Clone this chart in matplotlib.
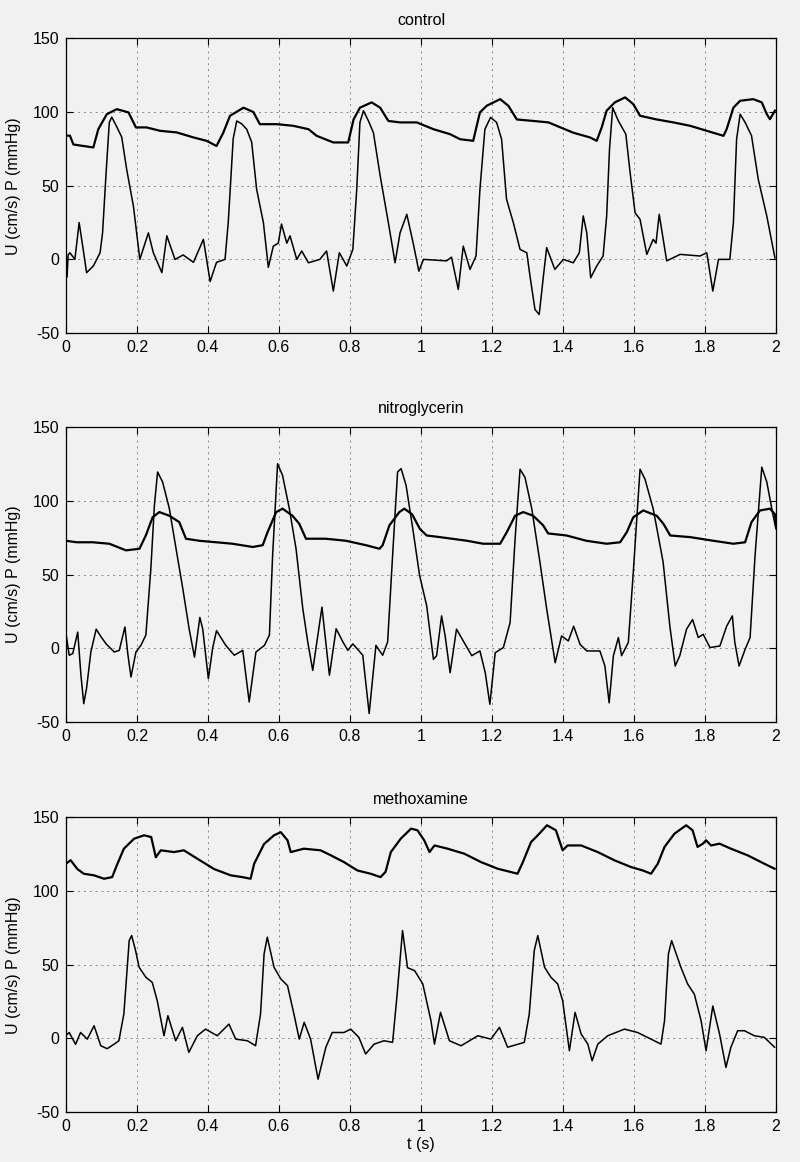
import numpy as np
import matplotlib
matplotlib.use("Agg")
import matplotlib.pyplot as plt

plt.rcParams['font.family'] = ['Liberation Sans', 'DejaVu Sans']
plt.rcParams['axes.unicode_minus'] = False

titles = ["control", "nitroglycerin", "methoxamine"]
yticks = [-50, 0, 50, 100, 150]
xticks = [0, 0.2, 0.4, 0.6, 0.8, 1, 1.2, 1.4, 1.6, 1.8, 2]

# (t, value)
ctrl_p = [(0, 84), (0.011, 84), (0.021, 78), (0.077, 76), (0.091, 88.4), (0.115, 98.6), (0.143, 102),
          (0.176, 99.8), (0.197, 89.6), (0.227, 89.6), (0.265, 87.3), (0.312, 86.2), (0.359, 82.8),
          (0.396, 80.5), (0.424, 77), (0.443, 86), (0.462, 97.5), (0.5, 103), (0.528, 100), (0.546, 91.8),
          (0.594, 91.8), (0.64, 90.7), (0.683, 88.4), (0.706, 83.9), (0.753, 79.4), (0.795, 79.4), (0.81, 95),
          (0.828, 103), (0.861, 106.6), (0.885, 103), (0.908, 94), (0.941, 93), (0.988, 93), (1.035, 88.4),
          (1.082, 85), (1.11, 81.6), (1.147, 80.5), (1.166, 99.8), (1.185, 104.3), (1.223, 108.8),
          (1.246, 104.3), (1.27, 95), (1.316, 94), (1.359, 93), (1.382, 90.7), (1.429, 86), (1.476, 82.8),
          (1.495, 80.5), (1.509, 89.6), (1.523, 101), (1.546, 106.6), (1.575, 110), (1.598, 105.4),
          (1.617, 97.5), (1.664, 95), (1.711, 93), (1.758, 90.7), (1.805, 87.3), (1.852, 83.9),
          (1.861, 88.4), (1.88, 103), (1.899, 107.7), (1.936, 108.8), (1.96, 106.6), (1.974, 98.6),
          (1.983, 95.2), (1.997, 101)]
ctrl_u = [(0, -12), (0.003, -12), (0.006, 3), (0.011, 4.5), (0.025, 0), (0.037, 25), (0.047, 9), (0.058, -9),
          (0.077, -4.5), (0.096, 4.5), (0.103, 18), (0.113, 59), (0.122, 93), (0.129, 96.6), (0.143, 90),
          (0.157, 83), (0.171, 61), (0.19, 36), (0.208, 0), (0.232, 18), (0.246, 4.5), (0.27, -9), (0.284, 16),
          (0.307, 0), (0.33, 3), (0.359, -2), (0.387, 13.6), (0.406, -15), (0.424, -2), (0.448, 0), (0.457, 25),
          (0.471, 82), (0.481, 94), (0.495, 92), (0.509, 88.4), (0.523, 79.6), (0.537, 47.6), (0.556, 25),
          (0.57, -5.4), (0.584, 9), (0.598, 11), (0.607, 24), (0.622, 11), (0.631, 16), (0.65, 0),
          (0.664, 5.7), (0.683, -2.3), (0.715, 0), (0.734, 5.7), (0.753, -21.5), (0.77, 4.5), (0.791, -4.5),
          (0.808, 6.8), (0.819, 47.6), (0.828, 93), (0.838, 100.9), (0.852, 94), (0.866, 86), (0.885, 56.7),
          (0.908, 25), (0.927, -2.3), (0.941, 18), (0.96, 30.6), (0.978, 11), (0.994, -8), (1.007, 0),
          (1.072, -1), (1.086, 1.5), (1.105, -20.4), (1.119, 9), (1.138, -6.8), (1.155, 2.3), (1.166, 47.6),
          (1.18, 88.4), (1.196, 96.4), (1.213, 93), (1.227, 81.6), (1.241, 40.8), (1.26, 25), (1.279, 6.8),
          (1.298, 4.5), (1.307, -11.3), (1.321, -34), (1.333, -37.4), (1.345, -11), (1.354, 8),
          (1.377, -6.8), (1.401, 0), (1.429, -2.3), (1.446, 4.5), (1.457, 29.5), (1.467, 18), (1.478, -12.5),
          (1.495, -4.5), (1.513, 2.3), (1.523, 29.5), (1.531, 74.8), (1.54, 103), (1.556, 94), (1.577, 85),
          (1.589, 59), (1.603, 31.7), (1.617, 27.2), (1.636, 3.4), (1.654, 13.6), (1.662, 11), (1.671, 30.6),
          (1.692, -1), (1.73, 3.4), (1.786, 2.3), (1.805, 4.5), (1.822, -21.5), (1.838, 0), (1.87, 0),
          (1.88, 25), (1.889, 81.6), (1.899, 98.6), (1.913, 93), (1.931, 84), (1.95, 54.4), (1.974, 29.5),
          (1.997, 1)]

nitro_p = [(0, 73), (0.03, 72), (0.075, 72), (0.122, 71), (0.169, 66.5), (0.207, 67.6), (0.225, 76.7),
           (0.244, 89), (0.263, 92.5), (0.291, 90), (0.319, 85.7), (0.338, 74.4), (0.376, 73), (0.423, 72),
           (0.469, 71), (0.526, 68.8), (0.554, 70), (0.568, 79), (0.592, 92.5), (0.61, 94.8), (0.638, 90),
           (0.657, 84.6), (0.676, 74.4), (0.732, 74.4), (0.789, 73), (0.845, 70), (0.883, 67.6), (0.892, 70),
           (0.911, 83.5), (0.939, 92.5), (0.953, 94.8), (0.975, 91), (0.997, 81), (1.016, 76.6),
           (1.053, 75.5), (1.13, 73), (1.175, 71), (1.223, 71), (1.242, 79), (1.265, 90), (1.288, 92.5),
           (1.316, 90), (1.344, 83.5), (1.358, 78), (1.41, 76.6), (1.466, 73), (1.523, 71), (1.561, 72),
           (1.58, 79), (1.598, 89), (1.626, 93.6), (1.664, 90), (1.683, 84.5), (1.702, 76.6), (1.758, 75.5),
           (1.824, 73), (1.88, 71), (1.913, 72), (1.931, 85.7), (1.955, 93.6), (1.983, 94.8), (1.997, 91),
           (2.0, 83)]
nitro_u = [(0, 10), (0.009, -4.7), (0.019, -3.6), (0.033, 11), (0.042, -18), (0.05, -37.6), (0.058, -27),
           (0.07, -2.5), (0.085, 13), (0.099, 7.7), (0.113, 3), (0.136, -2.5), (0.15, -1.4), (0.166, 14.5),
           (0.174, -3.6), (0.183, -19.5), (0.197, -2.5), (0.211, 2), (0.225, 9), (0.239, 54), (0.249, 97),
           (0.258, 119.7), (0.272, 113), (0.291, 95), (0.31, 67.6), (0.329, 40.5), (0.347, 13), (0.362, -6),
           (0.377, 21), (0.385, 13.3), (0.401, -20.6), (0.413, 0), (0.424, 12), (0.45, 2), (0.474, -4.7),
           (0.498, -1.4), (0.516, -36.4), (0.535, -2.5), (0.559, 2), (0.573, 9), (0.582, 63), (0.596, 125.3),
           (0.61, 117.4), (0.629, 95), (0.648, 67.6), (0.667, 27), (0.681, 4.3), (0.695, -15), (0.721, 28),
           (0.742, -18.3), (0.761, 13.3), (0.78, 4.3), (0.794, -1.4), (0.808, 3), (0.836, -4.7),
           (0.854, -44.3), (0.873, 2), (0.892, -4.7), (0.906, 4.3), (0.92, 63), (0.934, 119.7), (0.944, 122),
           (0.958, 110.6), (0.977, 81), (0.996, 49.5), (1.016, 28.9), (1.035, -7.5), (1.044, -5), (1.058, 22),
           (1.068, 8.4), (1.082, -16.6), (1.1, 13), (1.119, 5), (1.143, -5), (1.166, -1.8), (1.181, -16.6),
           (1.194, -38), (1.209, -3), (1.232, 0.5), (1.251, 17.5), (1.265, 74), (1.279, 121.6), (1.293, 116),
           (1.312, 94.8), (1.335, 58.6), (1.354, 26.8), (1.378, -9.8), (1.396, 8.4), (1.415, 5), (1.43, 15),
           (1.448, 2.7), (1.467, -1.8), (1.504, -1.8), (1.518, -12), (1.53, -37), (1.542, -5), (1.556, 7.3),
           (1.565, -5), (1.584, 4), (1.598, 51.6), (1.617, 121.6), (1.631, 114.8), (1.654, 94.8),
           (1.682, 58.6), (1.701, 15), (1.716, -12), (1.729, -5), (1.748, 13), (1.765, 19.5), (1.781, 7.3),
           (1.795, 9.5), (1.814, 0.5), (1.842, 1.6), (1.861, 15), (1.877, 22), (1.884, 4), (1.896, -12),
           (1.913, -0.7), (1.927, 7.3), (1.941, 63), (1.96, 123), (1.974, 113), (1.992, 90), (2.0, 81)]

metho_p = [(0, 118.6), (0.013, 121), (0.032, 115), (0.05, 111.8), (0.079, 110.7), (0.107, 108.4),
           (0.13, 109.5), (0.145, 118.6), (0.163, 128.8), (0.192, 135.6), (0.22, 137.9), (0.24, 136.7),
           (0.253, 123), (0.267, 127.7), (0.304, 126.5), (0.332, 127.7), (0.37, 122), (0.417, 115),
           (0.464, 110.7), (0.497, 109.5), (0.52, 108.4), (0.53, 118.6), (0.558, 132), (0.586, 137.9),
           (0.605, 140), (0.624, 134.5), (0.633, 126.5), (0.67, 128.8), (0.717, 127.7), (0.746, 124.3),
           (0.783, 119.7), (0.821, 114), (0.858, 111.8), (0.886, 109.5), (0.9, 113), (0.915, 126.5),
           (0.943, 135.6), (0.972, 142.4), (0.99, 141.3), (1.009, 134.5), (1.024, 126.5), (1.038, 131),
           (1.075, 128.8), (1.122, 125.4), (1.169, 119.7), (1.216, 115.2), (1.254, 112.9), (1.272, 111.8),
           (1.287, 119.7), (1.31, 133.3), (1.329, 137.9), (1.355, 144.7), (1.38, 141.3), (1.399, 127.7),
           (1.413, 131), (1.451, 131), (1.498, 126.5), (1.545, 120.9), (1.592, 116.3), (1.625, 114),
           (1.648, 111.8), (1.667, 118.6), (1.686, 130), (1.714, 139), (1.747, 144.7), (1.765, 141.3),
           (1.779, 130), (1.794, 132.2), (1.803, 134.5), (1.817, 131), (1.841, 132.2), (1.873, 128.8),
           (1.92, 124.3), (1.967, 118.6), (1.996, 115.2)]
metho_u = [(0, 2), (0.009, 4), (0.027, -4), (0.041, 4), (0.06, -0.5), (0.079, 8.6), (0.098, -5), (0.116, -7),
           (0.135, -4), (0.149, -1.6), (0.163, 16.6), (0.178, 66.4), (0.185, 69.8), (0.196, 59.6),
           (0.206, 48.3), (0.225, 41.5), (0.243, 38), (0.257, 25.6), (0.276, 1.8), (0.287, 15.4),
           (0.309, -1.6), (0.328, 7.5), (0.346, -9.5), (0.37, 1.8), (0.393, 6.3), (0.426, 1.8), (0.459, 9.7),
           (0.478, -0.5), (0.511, -1.6), (0.534, -5), (0.548, 16.6), (0.558, 57.4), (0.567, 68.7),
           (0.586, 48.3), (0.605, 40.4), (0.624, 35.8), (0.642, 16.6), (0.657, -0.5), (0.671, 10.9),
           (0.689, -0.5), (0.71, -27.7), (0.732, -6), (0.75, 4), (0.783, 4), (0.802, 6.3), (0.825, 0.7),
           (0.844, -10.6), (0.868, -3.9), (0.896, -1.6), (0.92, -2.7), (0.932, 27.9), (0.948, 73.2),
           (0.962, 48), (0.982, 46), (1.005, 37), (1.028, 12), (1.038, -3.9), (1.055, 17.7), (1.08, -1.6),
           (1.113, -5), (1.16, 1.8), (1.197, -0.5), (1.221, 7.5), (1.244, -6), (1.291, -2.7), (1.305, 16.6),
           (1.319, 59.6), (1.329, 69.8), (1.348, 48.3), (1.366, 41.5), (1.385, 37), (1.399, 25.6),
           (1.418, -8.4), (1.434, 17.7), (1.451, 3), (1.47, -3.9), (1.482, -15.2), (1.498, -3.9), (1.526, 1.8),
           (1.573, 6.3), (1.61, 4), (1.648, -0.5), (1.676, -3.9), (1.686, 12), (1.697, 57.4), (1.706, 66.4),
           (1.732, 48.3), (1.751, 37), (1.77, 30), (1.789, 12), (1.803, -8.4), (1.822, 22), (1.841, 3),
           (1.859, -19.7), (1.873, -6), (1.892, 5.2), (1.911, 5.2), (1.939, 1.8), (1.967, 0.7), (1.996, -6)]

panels = [(ctrl_p, ctrl_u), (nitro_p, nitro_u), (metho_p, metho_u)]
bottoms = [0.7134, 0.3787, 0.0430]

bg = '#f1f1f1'
fig = plt.figure(figsize=(8, 11.62), dpi=100, facecolor=bg)

for i, (title, (p, u)) in enumerate(zip(titles, panels)):
    ax = fig.add_axes([0.0825, bottoms[i], 0.8875, 0.2535], facecolor=bg)
    for tr, lw in ((p, 1.6), (u, 1.1)):
        t, v = np.array(tr).T
        ax.plot(t, v, color='black', lw=lw, solid_joinstyle='round')
    ax.set_xlim(0, 2)
    ax.set_ylim(-50, 150)
    ax.set_xticks(xticks)
    ax.set_xticklabels([('%g' % x) for x in xticks])
    ax.set_yticks(yticks)
    ax.grid(True, linestyle=(0, (2, 4)), color='#888888', lw=0.7)
    ax.tick_params(direction='in', top=True, right=True, length=5, labelsize=11.5, pad=5)
    for s in ax.spines.values():
        s.set_linewidth(0.9)
    ax.set_title(title, fontsize=11.5, pad=10)
    ax.set_ylabel('U (cm/s) P (mmHg)', fontsize=11.5, labelpad=8)
    if i == 2:
        ax.set_xlabel('t (s)', fontsize=11.5, labelpad=2)

fig.savefig('out.png', dpi=100, facecolor=bg)
